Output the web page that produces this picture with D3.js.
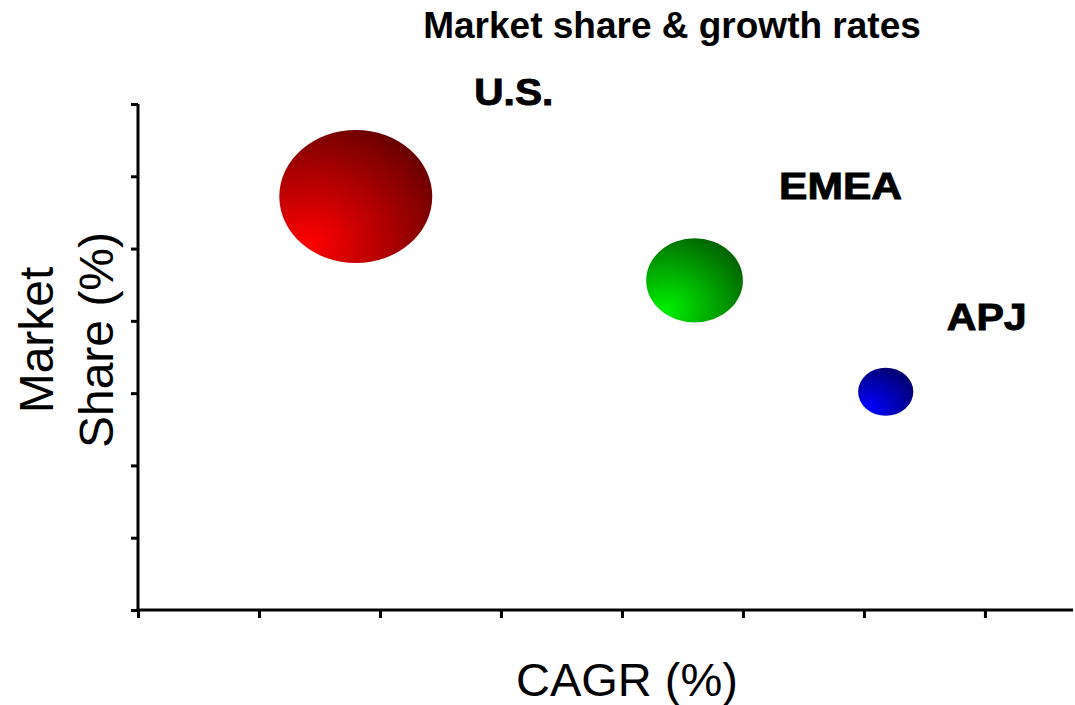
<!DOCTYPE html>
<html>
<head>
<meta charset="utf-8">
<script src="https://cdn.jsdelivr.net/npm/d3@7"></script>
<style>
  body { margin: 0; background: #fff; }
  svg { display: block; }
</style>
</head>
<body>
<svg id="chart" width="1075" height="705"></svg>
<script>
// Regional bubble data: growth (x), market share (y), bubble size
const regions = ["U.S.", "EMEA", "APJ"];
const cagr = [9.0, 23.0, 30.9];
const share = [57.2, 45.6, 30.2];
const revenue = [46, 18.4, 6];

// Axis tick positions (no tick labels are shown)
const xTickValues = [0, 5, 10, 15, 20, 25, 30, 35];
const yTickValues = [0, 10, 20, 30, 40, 50, 60, 70];

// Bubble shading: bright lower-left highlight to dark rim
const bubbleColors = [
  ["#ff0000", "#6a0000"],
  ["#00f000", "#006400"],
  ["#0000ff", "#000070"]
];

// Layout
const plot = { left: 138, right: 1073, top: 104, bottom: 610 };
const labelOffset = [[158, -92], [146, -81], [101, -62]];
const labelWidth = [79, 123, 80];
const aspect = 1.15; // bubbles are drawn slightly wider than tall

const svg = d3.select("#chart");

const x = d3.scaleLinear().domain([0, 38.64]).range([plot.left, plot.right]);
const y = d3.scaleLinear().domain([0, 70]).range([plot.bottom, plot.top]);
const r = d3.scaleSqrt().domain([0, 46]).range([0, 66.5]);

// Gradients
const defs = svg.append("defs");
bubbleColors.forEach((c, i) => {
  const g = defs.append("radialGradient")
    .attr("id", "grad" + i)
    .attr("cx", 0.2).attr("cy", 0.85)
    .attr("fx", 0.2).attr("fy", 0.85)
    .attr("r", 0.95);
  g.append("stop").attr("offset", "0%").attr("stop-color", c[0]);
  g.append("stop").attr("offset", "100%").attr("stop-color", c[1]);
});

// Title
svg.append("text")
  .attr("x", 672).attr("y", 38)
  .attr("text-anchor", "middle")
  .attr("font-family", "Liberation Sans, Arial, sans-serif")
  .attr("font-weight", "bold")
  .attr("font-size", 37)
  .attr("fill", "#000")
  .text("Market share & growth rates");

// Axes
const xAxis = d3.axisBottom(x)
  .tickValues(xTickValues)
  .tickSizeInner(8).tickSizeOuter(0)
  .tickFormat("");
const yAxis = d3.axisLeft(y)
  .tickValues(yTickValues)
  .tickSizeInner(7).tickSizeOuter(0)
  .tickFormat("");

const gx = svg.append("g")
  .attr("transform", `translate(0,${plot.bottom})`)
  .call(xAxis);
const gy = svg.append("g")
  .attr("transform", `translate(${plot.left},0)`)
  .call(yAxis);

[gx, gy].forEach(g => {
  g.select(".domain").attr("stroke", "#000").attr("stroke-width", 3);
  g.selectAll(".tick line").attr("stroke", "#000").attr("stroke-width", 3);
});
gx.select(".domain").attr("d", `M${plot.left - 1.5},0H${plot.right}`);
gy.select(".domain").attr("d", `M0,${plot.top}V${plot.bottom + 1.5}`);

// Bubbles
const data = regions.map((name, i) => ({ name, cagr: cagr[i], share: share[i], revenue: revenue[i], i }));

svg.append("g").selectAll("ellipse")
  .data(data)
  .join("ellipse")
  .attr("cx", d => x(d.cagr))
  .attr("cy", d => y(d.share))
  .attr("rx", d => r(d.revenue) * aspect)
  .attr("ry", d => r(d.revenue))
  .attr("fill", d => `url(#grad${d.i})`);

// Region labels
svg.append("g").selectAll("text")
  .data(data)
  .join("text")
  .attr("x", d => x(d.cagr) + labelOffset[d.i][0])
  .attr("y", d => y(d.share) + labelOffset[d.i][1])
  .attr("text-anchor", "middle")
  .attr("font-family", "Liberation Sans, Arial, sans-serif")
  .attr("font-weight", "bold")
  .attr("font-size", 36)
  .attr("stroke", "#000")
  .attr("stroke-width", 0.9)
  .attr("textLength", d => labelWidth[d.i])
  .attr("lengthAdjust", "spacingAndGlyphs")
  .text(d => d.name);

// Axis titles
svg.append("text")
  .attr("x", 627).attr("y", 696)
  .attr("text-anchor", "middle")
  .attr("font-family", "Liberation Sans, Arial, sans-serif")
  .attr("font-size", 47)
  .text("CAGR (%)");

const yTitle = svg.append("text")
  .attr("transform", "translate(53,340) rotate(-90)")
  .attr("text-anchor", "middle")
  .attr("font-family", "Liberation Sans, Arial, sans-serif")
  .attr("font-size", 48);
yTitle.append("tspan").attr("x", 0).attr("dy", 0).text("Market");
yTitle.append("tspan").attr("x", 0).attr("dy", 60).text("Share (%)");
</script>
</body>
</html>
